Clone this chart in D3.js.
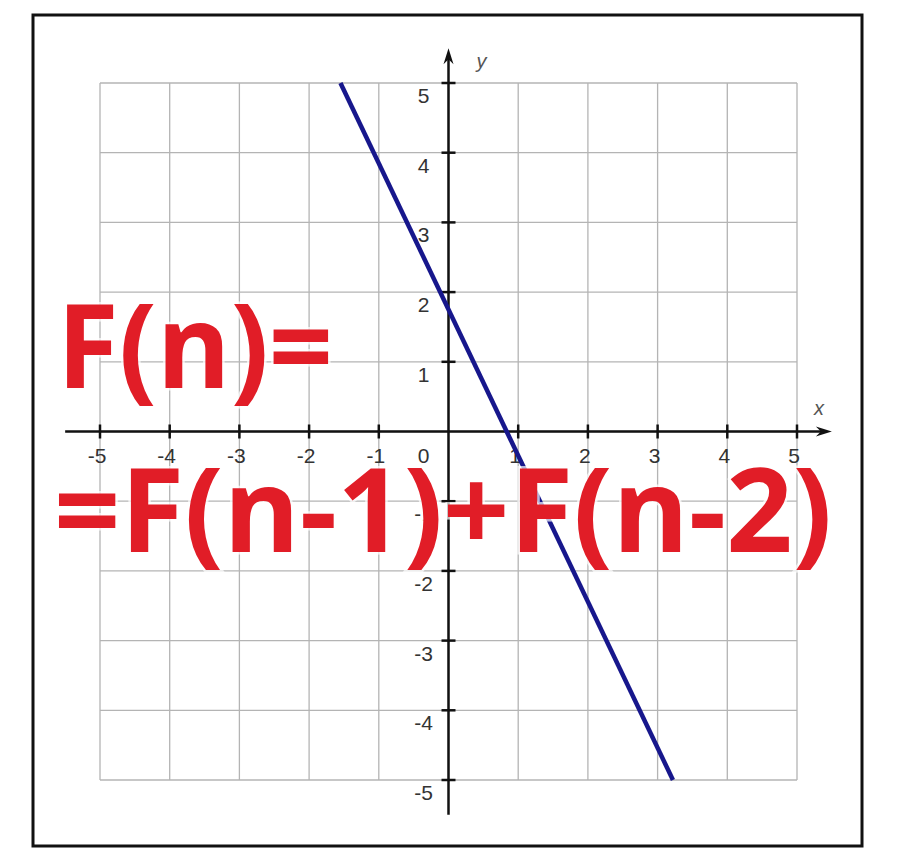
<!DOCTYPE html>
<html>
<head>
<meta charset="utf-8">
<script src="https://cdn.jsdelivr.net/npm/d3@7"></script>
<style>
  html, body { margin: 0; padding: 0; background: #fff; }
  svg { display: block; }
</style>
</head>
<body>
<div id="chart"></div>
<script>
// Data
const xTicks = [-5, -4, -3, -2, -1, 1, 2, 3, 4, 5];
const yTicks = [-5, -4, -3, -2, -1, 1, 2, 3, 4, 5];
const gridValues = [-5, -4, -3, -2, -1, 0, 1, 2, 3, 4, 5];
const lineX = [-1.55, 3.22];
const lineY = [5, -5];
const titleLines = ['F(n)=', '=F(n-1)+F(n-2)'];

const width = 897, height = 860;

const svg = d3.select('#chart')
    .append('svg')
    .attr('width', width)
    .attr('height', height);

// Scales
const x = d3.scaleLinear().domain([-5, 5]).range([100, 797]);
const y = d3.scaleLinear().domain([-5, 5]).range([780, 83]);

// Frame
svg.append('rect')
    .attr('x', 33).attr('y', 15)
    .attr('width', 829).attr('height', 831)
    .attr('fill', '#fff')
    .attr('stroke', '#111')
    .attr('stroke-width', 3);

// Grid
const grid = svg.append('g').attr('stroke', '#b4b4b4').attr('stroke-width', 1.3);
grid.selectAll('line.v')
    .data(gridValues)
    .enter().append('line')
    .attr('x1', d => x(d)).attr('x2', d => x(d))
    .attr('y1', y(5)).attr('y2', y(-5));
grid.selectAll('line.h')
    .data(gridValues)
    .enter().append('line')
    .attr('y1', d => y(d)).attr('y2', d => y(d))
    .attr('x1', x(-5)).attr('x2', x(5));

// Axes
const axes = svg.append('g').attr('stroke', '#111').attr('stroke-width', 2.5);
axes.append('line')
    .attr('x1', x(-5.5)).attr('x2', x(5.4))
    .attr('y1', y(0)).attr('y2', y(0));
axes.append('line')
    .attr('x1', x(0)).attr('x2', x(0))
    .attr('y1', y(5.35)).attr('y2', y(-5.5));

// Arrow heads
svg.append('path')
    .attr('d', `M${x(5.5)},${y(0)} L${x(5.5) - 16},${y(0) - 5} L${x(5.5) - 11},${y(0)} L${x(5.5) - 16},${y(0) + 5} Z`)
    .attr('fill', '#111');
svg.append('path')
    .attr('d', `M${x(0)},${y(5.5)} L${x(0) - 5},${y(5.5) + 16} L${x(0)},${y(5.5) + 11} L${x(0) + 5},${y(5.5) + 16} Z`)
    .attr('fill', '#111');

// Tick marks
axes.selectAll('line.xt')
    .data(xTicks)
    .enter().append('line')
    .attr('x1', d => x(d)).attr('x2', d => x(d))
    .attr('y1', y(0) - 7).attr('y2', y(0) + 7);
axes.selectAll('line.yt')
    .data(yTicks)
    .enter().append('line')
    .attr('y1', d => y(d)).attr('y2', d => y(d))
    .attr('x1', x(0) - 7).attr('x2', x(0) + 7);

// Tick labels
const labelStyle = sel => sel
    .attr('font-family', 'Liberation Sans, Arial, sans-serif')
    .attr('font-size', 21)
    .attr('fill', '#333')
    .attr('text-anchor', 'middle');

svg.append('g').selectAll('text')
    .data(xTicks)
    .enter().append('text')
    .call(labelStyle)
    .attr('x', d => x(d) - 3)
    .attr('y', y(0) + 31)
    .text(d => d);

svg.append('g').selectAll('text')
    .data(yTicks)
    .enter().append('text')
    .call(labelStyle)
    .attr('x', x(0) - 25)
    .attr('y', d => y(d) + 20)
    .text(d => d);

svg.append('text')
    .call(labelStyle)
    .attr('x', x(0) - 25)
    .attr('y', y(0) + 31)
    .text('0');

// Axis names
svg.append('text')
    .attr('x', x(0) + 28).attr('y', y(5) - 15)
    .attr('font-family', 'Liberation Sans, Arial, sans-serif')
    .attr('font-style', 'italic')
    .attr('font-size', 20)
    .attr('fill', '#555')
    .text('y');
svg.append('text')
    .attr('x', x(5) + 17).attr('y', y(0) - 17)
    .attr('font-family', 'Liberation Sans, Arial, sans-serif')
    .attr('font-style', 'italic')
    .attr('font-size', 20)
    .attr('fill', '#555')
    .text('x');

// Function line
const lineData = lineX.map((d, i) => ({ x: d, y: lineY[i] }));
svg.append('path')
    .datum(lineData)
    .attr('d', d3.line().x(d => x(d.x)).y(d => y(d.y)))
    .attr('fill', 'none')
    .attr('stroke', '#17178c')
    .attr('stroke-width', 4.5);

// Big red formula
const titlePos = [
    { x: 57, y: 388, len: 276 },
    { x: 54, y: 552, len: 778 }
];
svg.append('g').selectAll('text')
    .data(titleLines)
    .enter().append('text')
    .attr('x', (d, i) => titlePos[i].x)
    .attr('y', (d, i) => titlePos[i].y)
    .attr('textLength', (d, i) => titlePos[i].len)
    .attr('lengthAdjust', 'spacingAndGlyphs')
    .attr('font-family', 'Open Sans, DejaVu Sans, sans-serif')
    .attr('font-weight', 700)
    .attr('font-size', 116)
    .attr('fill', '#e11d27')
    .attr('stroke', '#fff')
    .attr('stroke-opacity', 0.7)
    .attr('stroke-width', 5)
    .attr('paint-order', 'stroke')
    .text(d => d);
</script>
</body>
</html>
